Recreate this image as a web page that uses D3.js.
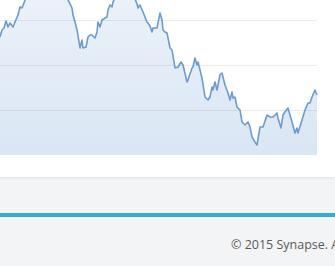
<!DOCTYPE html>
<html>
<head>
<meta charset="utf-8">
<script src="https://cdnjs.cloudflare.com/ajax/libs/d3/7.8.5/d3.min.js"></script>
<style>
    html, body { margin: 0; padding: 0; background: #f3f4f6; overflow: hidden; }
    #panel { position: absolute; left: 0; top: 0; width: 335px; height: 177px; background: #fff; box-shadow: 0 1px 3px rgba(0,0,0,0.07); }
    #chart { position: absolute; left: 0; top: 0; }
    #footer { position: absolute; left: 0; top: 213px; width: 335px; height: 53px; border-top: 4px solid #30aae1; box-sizing: border-box; background: #f3f4f6; }
    #footer p { margin: 0; position: absolute; left: 231px; top: 19px; white-space: nowrap; font-family: "Open Sans", sans-serif; font-size: 12.5px; color: #5a5a5a; }
</style>
</head>
<body>
<div id="panel"><div id="chart"></div></div>
<div id="footer"><p>© 2015 Synapse. All rights reserved.</p></div>
<script>
var days = [0, 2, 4, 6, 8, 10, 13, 15, 18, 20, 22, 24, 27, 30, 35, 40, 45, 50, 55, 60,
    65, 68, 70, 72, 73, 75, 77, 80, 82, 83, 86, 88, 90, 92, 95, 97, 98, 100, 102, 105,
    107, 108, 110, 112, 113, 116, 120, 125, 130, 135, 137, 138, 140, 143, 145, 147, 148, 150, 152, 153,
    155, 157, 158, 160, 162, 163, 165, 167, 170, 172, 175, 178, 181, 183, 187, 188, 192, 193, 195, 197,
    198, 202, 205, 208, 210, 212, 213, 215, 217, 220, 222, 225, 228, 230, 232, 233, 235, 237, 240, 242,
    245, 248, 250, 252, 255, 257, 260, 263, 267, 270, 273, 277, 278, 281, 283, 285, 288, 292, 295, 297,
    298, 302, 305, 308, 310, 312, 315, 317];

var values = [131.1, 138.9, 141.1, 148.9, 142.2, 146.7, 142.2, 147.8, 155.6, 164.4, 163.3, 168.9, 177.8, 183.3, 181.1, 187.8, 183.3, 178.9, 185.6, 181.1,
    176.7, 172.2, 167.8, 163.3, 155.6, 147.8, 138.9, 118.9, 127.8, 118.9, 120, 131.1, 133.3, 133.3, 130, 136.7, 147.8, 142.2, 150, 152.2,
    153.3, 161.1, 166.7, 164.4, 170, 176.7, 181.1, 185.6, 178.9, 173.3, 167.8, 163.3, 166.7, 158.9, 153.3, 147.8, 146.7, 143.3, 136.7, 141.1,
    141.1, 141.1, 146.7, 157.8, 150, 138.9, 136.7, 135.6, 118.9, 116.7, 96.7, 97.8, 103.3, 100, 81.1, 83.3, 96.7, 97.8, 107.8, 100,
    103.3, 85.6, 64.4, 61.1, 64.4, 75.6, 72.2, 81.1, 72.2, 88.9, 91.1, 77.8, 68.9, 61.1, 70, 63.3, 64.4, 53.3, 50, 36.7,
    33.3, 36.7, 31.1, 20, 14.4, 11.1, 31.1, 31.1, 44.4, 42.2, 42.2, 46.7, 41.1, 30, 44.4, 47.8, 52.2, 36.7, 24.4, 30,
    24.4, 38.9, 50, 57.8, 57.8, 64.4, 72.2, 66.7];

var gridTicks = [50, 100, 150];

var data = days.map(function(d, i) {
    return { day: d, value: values[i] };
});

var width = 335,
    height = 177,
    plotW = 317,
    plotH = 155
;

var svg = d3.select('#chart')
    .append('svg')
    .attr('width', width)
    .attr('height', height)
;

var x = d3.scaleLinear()
    .domain([0, 317])
    .range([0, plotW])
;

var y = d3.scaleLinear()
    .domain([0, 172.2])
    .range([plotH, 0])
;

var grad = svg.append('defs')
    .append('linearGradient')
    .attr('id', 'fillGrad')
    .attr('x1', 0).attr('y1', 0)
    .attr('x2', 0).attr('y2', 1)
;
grad.append('stop').attr('offset', '0%').attr('stop-color', '#ecf2fa');
grad.append('stop').attr('offset', '100%').attr('stop-color', '#dae6f4');

var area = d3.area()
    .x(function(d) { return x(d.day); })
    .y0(plotH)
    .y1(function(d) { return y(d.value); })
;

var line = d3.line()
    .x(function(d) { return x(d.day); })
    .y(function(d) { return y(d.value); })
;

svg.append('path')
    .datum(data)
    .attr('d', area)
    .style('fill', 'url(#fillGrad)')
;

// gridlines
svg.append('g')
    .attr('class', 'grid')
    .call(d3.axisLeft(y).tickValues(gridTicks).tickSize(-plotW).tickFormat(''))
    .call(function(g) {
        g.select('.domain').remove();
        g.selectAll('line').style('stroke', '#000').style('stroke-opacity', 0.08);
    })
;

svg.append('path')
    .datum(data)
    .attr('d', line)
    .style('fill', 'none')
    .style('stroke', '#6b9bd2')
    .style('stroke-width', 1.6)
    .style('stroke-linejoin', 'round')
;
</script>
</body>
</html>
